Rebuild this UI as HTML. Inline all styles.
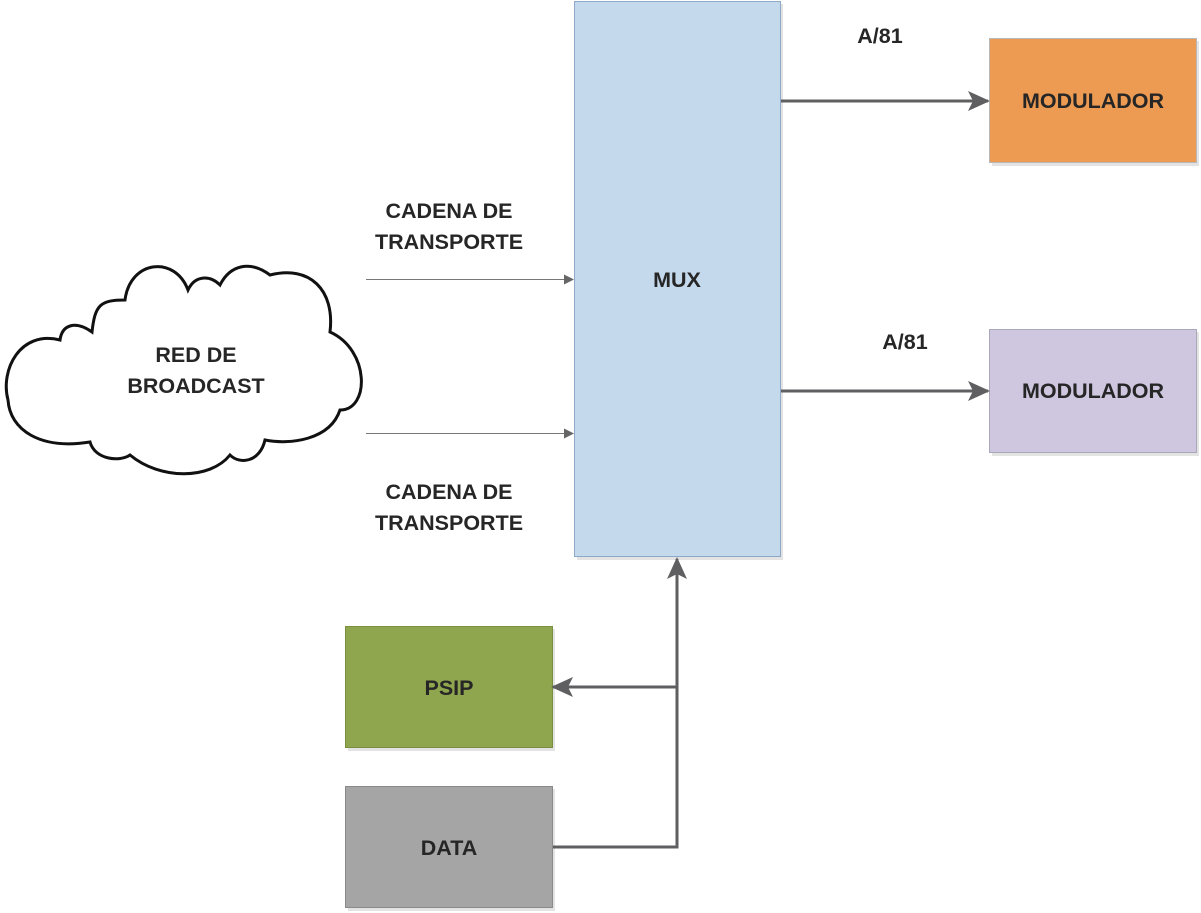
<!DOCTYPE html>
<html><head><meta charset="utf-8"><style>
html,body{margin:0;padding:0;background:#fff;}
svg{display:block;}
text{font-family:"Liberation Sans",sans-serif;font-weight:bold;font-size:21.5px;fill:#262626;}
</style></head><body>
<svg width="1201" height="913" viewBox="0 0 1201 913" xmlns="http://www.w3.org/2000/svg">
<defs>
<marker id="a" markerWidth="10" markerHeight="10" refX="9" refY="5" orient="auto" markerUnits="userSpaceOnUse"><path d="M0,0 L10,5 L0,10 Z" fill="#666"/></marker>
<marker id="b" markerWidth="22" markerHeight="20" refX="20" refY="10" orient="auto" markerUnits="userSpaceOnUse"><path d="M0,0 L22,10 L0,20 L5,10 Z" fill="#5f5f62"/></marker>
</defs>
<rect x="577" y="4" width="206" height="556" fill="#e3e3e3"/>
<rect x="992" y="41" width="207" height="125" fill="#e3e3e3"/>
<rect x="992" y="332" width="207" height="124" fill="#e3e3e3"/>
<rect x="348" y="629" width="207" height="122" fill="#e3e3e3"/>
<rect x="348" y="789" width="207" height="122" fill="#e3e3e3"/>
<rect x="574.5" y="1.5" width="206" height="555" fill="#C5D9ED" stroke="#8EA9C8"/>
<rect x="989.5" y="38.5" width="207" height="124" fill="#ED9B52" stroke="#b8b8b8"/>
<rect x="989.5" y="329.5" width="207" height="123" fill="#CFC7DF" stroke="#a8a8b8"/>
<rect x="345.5" y="626.5" width="207" height="121" fill="#8FA64E" stroke="#7a8f3e"/>
<rect x="345.5" y="786.5" width="207" height="121" fill="#A5A5A5" stroke="#8a8a8a"/>
<path d="M60,340 C20,330 0,370 8,400 C10,430 40,450 90,442 C95,460 120,462 130,455 C160,480 210,480 230,455 C240,465 260,462 265,440 C290,445 330,440 340,410 C370,410 370,350 330,332 C335,290 310,265 270,275 C250,260 230,265 220,285 C210,275 195,275 188,290 C175,255 130,260 125,300 C100,300 95,305 92,332 C75,320 62,325 60,340 Z" fill="#fff" stroke="#111" stroke-width="3"/>
<text x="196" y="362" text-anchor="middle">RED DE</text>
<text x="196" y="393" text-anchor="middle">BROADCAST</text>
<line x1="366" y1="279.5" x2="573" y2="279.5" stroke="#777" stroke-width="1" marker-end="url(#a)"/>
<line x1="366" y1="433.5" x2="573" y2="433.5" stroke="#777" stroke-width="1" marker-end="url(#a)"/>
<text x="449" y="218" text-anchor="middle">CADENA DE</text>
<text x="449" y="249" text-anchor="middle">TRANSPORTE</text>
<text x="449" y="499" text-anchor="middle">CADENA DE</text>
<text x="449" y="530" text-anchor="middle">TRANSPORTE</text>
<text x="677" y="287" text-anchor="middle">MUX</text>
<line x1="781" y1="101" x2="988" y2="101" stroke="#5f5f62" stroke-width="3" marker-end="url(#b)"/>
<line x1="781" y1="391" x2="988" y2="391" stroke="#5f5f62" stroke-width="3" marker-end="url(#b)"/>
<text x="880" y="43" text-anchor="middle">A/81</text>
<text x="905" y="349" text-anchor="middle">A/81</text>
<text x="1093" y="108" text-anchor="middle">MODULADOR</text>
<text x="1093" y="398" text-anchor="middle">MODULADOR</text>
<polyline points="553,847 677,847 677,559" fill="none" stroke="#5f5f62" stroke-width="3" marker-end="url(#b)"/>
<line x1="677" y1="687" x2="553" y2="687" stroke="#5f5f62" stroke-width="3" marker-end="url(#b)"/>
<text x="449" y="695" text-anchor="middle">PSIP</text>
<text x="449" y="855" text-anchor="middle">DATA</text>
</svg>
</body></html>
